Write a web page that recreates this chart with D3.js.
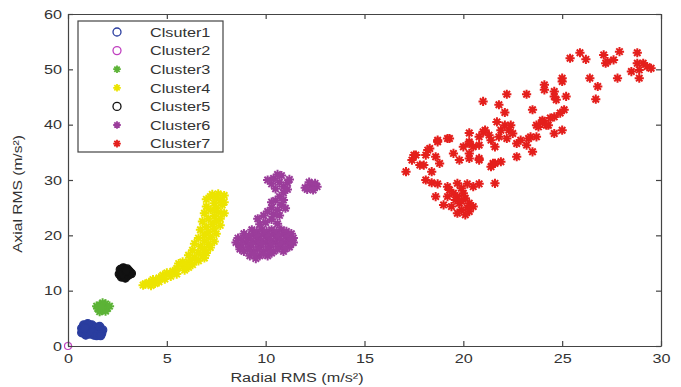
<!DOCTYPE html>
<html>
<head>
<meta charset="utf-8">
<script src="https://cdn.jsdelivr.net/npm/d3@7"></script>
<style>
  body { margin: 0; background: #fff; }
  svg text { font-family: Arial, "Liberation Sans", sans-serif; fill: #333; }
</style>
</head>
<body>
<div id="chart"></div>
<script>
// values (Radial RMS, Axial RMS)
const xTicks = [0, 5, 10, 15, 20, 25, 30];
const yTicks = [0, 10, 20, 30, 40, 50, 60];

const cluster1 = [[0.7,2.4],[0.7,3.2],[0.8,3.8],[0.9,2.0],[0.95,2.8],[1.0,3.6],[1.1,2.2],[1.15,3.0],
  [1.2,3.8],[1.3,2.0],[1.35,2.7],[1.4,3.4],[1.5,2.2],[1.55,2.9],[1.6,3.5],[1.7,2.3],[1.75,2.9],
  [1.0,4.0],[0.85,3.3],[1.25,2.5],[1.45,1.9],[1.65,1.9]];
const cluster2 = [[0, 0]];
const cluster3 = [[1.5,6.8],[1.6,7.4],[1.7,6.4],[1.8,7.1],[1.9,7.6],[2.0,6.8],[1.6,6.2],[1.9,6.3],
  [1.45,7.2],[1.75,7.8],[2.1,7.2],[1.7,7.0]];
const cluster4 = [[7.3,27.4],[7.6,27.5],[7.9,27.2],[7.5,26.8],[7.2,27.0],[7.7,26.3],[7.4,25.8],[7.8,25.5],
  [7.5,24.9],[7.2,24.6],[7.6,24.2],[7.4,23.5],[7.1,23.0],[7.5,22.6],[7.3,22.0],[7.0,21.5],[7.4,21.2],
  [7.1,20.6],[6.9,20.0],[7.2,19.6],[6.9,19.0],[7.1,18.4],[6.7,18.0],[6.9,17.4],[6.6,16.9],[6.8,16.3],
  [6.4,16.0],[6.2,15.5],[6.6,15.4],[6.0,15.0],[6.3,14.7],[5.8,14.3],[5.5,14.0],[5.9,13.7],[5.3,13.5],
  [5.0,13.2],[5.5,13.0],[4.8,12.8],[4.6,12.3],[4.9,12.1],[4.3,12.0],[4.1,11.5],[4.4,11.3],[3.9,11.2],[4.2,10.9],
  [7.0,26.5],[7.9,26.0],[7.0,25.2],[7.9,24.0],[6.9,24.0],[7.7,23.0],[6.8,22.5],[7.7,21.8],[6.7,21.0],
  [7.5,20.3],[6.6,19.5],[7.4,18.9],[6.4,18.5],[7.2,17.8],[6.3,17.3],[7.0,16.8],[6.1,16.4],[5.6,14.9],
  [6.9,15.9],[5.2,12.6],[6.1,14.2],[4.6,11.6],[3.8,11.0],[5.8,15.2]];
const cluster5 = [[2.6,13.0],[2.65,13.8],[2.7,12.5],[2.8,14.1],[2.85,13.3],[2.9,12.3],[3.0,13.9],
  [3.05,12.8],[3.1,13.5],[3.2,13.1],[2.75,13.1],[2.95,13.6]];
const cluster6 = [[9.3,21.0],[9.8,21.0],[10.3,21.0],[10.8,21.0],
  [8.9,20.3],[9.4,20.3],[9.9,20.3],[10.4,20.3],[10.9,20.3],[11.3,20.3],
  [8.6,19.5],[9.1,19.5],[9.6,19.5],[10.1,19.5],[10.6,19.5],[11.1,19.5],[11.4,19.5],
  [8.5,18.7],[9.0,18.7],[9.5,18.7],[10.0,18.7],[10.5,18.7],[11.0,18.7],[11.4,18.7],
  [8.7,17.9],[9.2,17.9],[9.7,17.9],[10.2,17.9],[10.7,17.9],[11.2,17.9],
  [8.9,17.1],[9.4,17.1],[9.9,17.1],[10.4,17.1],[10.9,17.1],
  [9.2,16.3],[9.7,16.3],[10.1,16.3],[9.5,15.8],
  [9.55,20.7],[10.05,20.7],[10.55,20.7],[11.05,20.7],[9.15,19.9],[9.65,19.9],[10.15,19.9],[10.65,19.9],
  [11.15,19.9],[8.8,19.1],[9.3,19.1],[9.8,19.1],[10.3,19.1],[10.8,19.1],[11.25,19.1],[8.75,18.3],
  [9.25,18.3],[9.75,18.3],[10.25,18.3],[10.75,18.3],[11.25,18.3],[9.1,17.5],[9.6,17.5],[10.1,17.5],
  [10.6,17.5],[11.0,17.6],[9.4,16.7],[9.9,16.7],[10.3,16.8],[8.7,17.5],
  [10.0,22.3],[10.3,22.9],[9.9,23.6],[10.4,23.8],[10.6,24.6],[10.3,25.0],[10.8,25.5],[10.5,26.3],
  [10.7,27.0],[10.9,27.7],[10.5,28.4],[10.9,28.8],[10.3,29.3],[10.7,29.6],[11.1,29.5],[10.4,30.3],
  [10.8,30.8],[11.2,30.1],[10.1,30.0],[9.7,22.0],[10.6,22.1],[9.6,23.0],[10.7,23.6],[10.1,24.3],
  [11.0,24.9],[10.9,26.4],[10.3,26.0],[11.1,28.3],[10.6,31.0],
  [12.0,28.6],[12.3,29.0],[12.6,28.8],[12.2,29.6],[12.5,29.4],[12.1,28.3],[12.4,28.2]];
const cluster7 = [[25.4,52.0],[25.9,53.0],[26.2,51.8],[27.1,52.6],[27.2,51.1],[27.3,51.4],[27.6,51.7],
  [27.9,53.2],[28.8,53.0],[28.8,51.1],[29.1,51.1],[29.3,50.5],[29.5,50.2],[28.5,49.6],[28.9,49.9],
  [28.9,48.4],[27.8,48.4],[26.4,48.4],[26.8,46.9],[26.7,44.6],[25.0,48.4],[25.0,47.8],
  [24.1,47.2],[24.1,46.3],[24.6,46.0],[24.6,45.1],[24.7,44.5],[25.2,45.1],[23.2,45.5],[22.2,45.5],
  [21.0,44.2],[21.8,43.6],[22.1,42.2],[23.5,42.7],[25.1,42.7],[24.9,42.1],[24.6,41.4],[24.4,41.2],
  [24.0,40.8],[24.0,40.5],[23.7,39.9],[23.8,39.6],[24.2,39.9],[24.3,39.9],[24.6,38.4],[25.0,39.0],
  [21.7,40.5],[22.1,39.9],[22.4,39.9],[22.3,39.0],[22.5,38.4],[21.9,39.0],[21.8,37.8],[22.2,37.5],
  [21.0,38.7],[21.1,39.0],[21.3,38.1],[20.8,37.8],[20.3,38.5],[20.3,36.6],[20.8,36.3],[21.4,37.2],
  [21.6,36.0],[20.5,36.0],[22.7,36.6],[22.9,37.2],[23.2,36.3],[23.3,37.5],[23.4,37.8],[23.7,37.8],
  [23.5,35.1],[22.7,34.2],[21.6,33.0],[21.4,32.4],[21.5,33.0],[21.9,33.3],
  [19.3,37.5],[18.7,36.9],[18.7,37.2],[19.2,37.5],[18.3,35.7],[18.2,35.4],[18.1,34.5],[18.6,34.2],
  [17.6,34.5],[17.5,34.5],[17.4,33.6],[18.8,33.0],[17.8,32.7],[18.0,32.7],[17.1,31.5],[18.4,31.5],
  [19.5,34.8],[19.8,33.6],[20.3,33.9],[20.3,34.8],[20.8,33.9],[20.8,33.6],[20.0,36.0],[20.3,36.9],
  [18.1,30.0],[18.4,29.5],[18.7,29.3],[19.2,28.8],[19.7,29.4],[20.2,29.3],[20.8,29.3],[21.6,29.4],
  [19.3,28.2],[19.9,28.5],[20.5,28.8],[18.6,27.0],[19.2,27.0],[19.7,27.0],[20.1,26.7],[20.3,25.8],
  [19.8,25.8],[19.0,25.5],[19.4,25.2],[19.9,24.6],[20.3,24.3],[20.5,25.2],[20.1,23.7],[19.7,24.0],
  [19.6,26.4],[20.0,27.6],[19.5,27.6],[20.2,25.0],[19.9,26.2]];

const names = ['Clsuter1', 'Cluster2', 'Cluster3', 'Cluster4', 'Cluster5', 'Cluster6', 'Cluster7'];
const colors = ['#2a3d9f', '#c040c0', '#5cb336', '#ece400', '#111111', '#9b3d9b', '#e41f1c'];
const shapes = ['o', 'o', '*', '*', 'o', '*', '*'];
const series = [cluster1, cluster2, cluster3, cluster4, cluster5, cluster6, cluster7];

const W = 681, H = 387;
const margin = { top: 14, right: 20, bottom: 41, left: 68 };
const width = W - margin.left - margin.right;
const height = H - margin.top - margin.bottom;
const stretch = 1.2; // the reference text is drawn a bit wider than it is tall

const svg = d3.select('#chart').append('svg')
  .attr('width', W)
  .attr('height', H);

const x = d3.scaleLinear().domain([0, 30]).range([0, width]);
const y = d3.scaleLinear().domain([0, 60]).range([height, 0]);

const chart = svg.append('g')
  .attr('transform', `translate(${margin.left}, ${margin.top})`);

// asterisk marker like matlab '*'
function star(r) {
  const k = r * 0.7;
  return `M${-r},0L${r},0M0,${-r}L0,${r}M${-k},${-k}L${k},${k}M${-k},${k}L${k},${-k}`;
}

series.forEach((pts, i) => {
  const g = chart.append('g').attr('class', 'cluster' + (i + 1));
  if (shapes[i] === 'o') {
    const hollow = i === 1;
    g.selectAll('circle')
      .data(pts)
      .enter()
      .append('circle')
      .attr('cx', d => x(d[0]))
      .attr('cy', d => y(d[1]))
      .attr('r', hollow ? 3.5 : 4.2)
      .style('fill', hollow ? 'none' : colors[i])
      .style('stroke', colors[i])
      .style('stroke-width', 1.2);
  } else {
    g.selectAll('path')
      .data(pts)
      .enter()
      .append('path')
      .attr('transform', d => `translate(${x(d[0])},${y(d[1])})`)
      .attr('d', star(4.6))
      .style('fill', 'none')
      .style('stroke', colors[i])
      .style('stroke-width', 2);
  }
});

// axes, matlab style with inward ticks on all four sides
const axisColor = '#444';
const axBottom = chart.append('g')
  .attr('transform', `translate(0, ${height})`)
  .call(d3.axisBottom(x).tickValues(xTicks).tickSizeInner(-5).tickSizeOuter(0).tickPadding(7));
const axTop = chart.append('g')
  .call(d3.axisTop(x).tickValues(xTicks).tickSizeInner(-5).tickSizeOuter(0).tickFormat(''));
const axLeft = chart.append('g')
  .call(d3.axisLeft(y).tickValues(yTicks).tickSizeInner(-5).tickSizeOuter(0).tickPadding(5));
const axRight = chart.append('g')
  .attr('transform', `translate(${width}, 0)`)
  .call(d3.axisRight(y).tickValues(yTicks).tickSizeInner(-5).tickSizeOuter(0).tickFormat(''));

[axBottom, axTop, axLeft, axRight].forEach(a => {
  a.selectAll('path, line').style('stroke', axisColor).style('stroke-width', 1.2);
  a.selectAll('text')
    .style('font-size', '13.5px')
    .style('fill', '#333')
    .attr('transform', `scale(${stretch},1)`);
});
axLeft.selectAll('text').attr('x', -6 / stretch);

// axis titles
svg.append('text')
  .attr('transform', `translate(297, 382) scale(${stretch},1)`)
  .attr('text-anchor', 'middle')
  .style('font-size', '13.5px')
  .text('Radial RMS (m/s²)');

svg.append('text')
  .attr('transform', `translate(22, 194) rotate(-90) scale(${stretch},1)`)
  .attr('text-anchor', 'middle')
  .style('font-size', '13px')
  .text('Axial RMS (m/s²)');

// legend
const legend = svg.append('g').attr('transform', 'translate(78, 21)');
legend.append('rect')
  .attr('width', 145)
  .attr('height', 131)
  .style('fill', '#fff')
  .style('stroke', axisColor)
  .style('stroke-width', 1.2);

names.forEach((name, i) => {
  const row = legend.append('g').attr('transform', `translate(0, ${11 + i * 18.6})`);
  if (shapes[i] === 'o') {
    row.append('circle')
      .attr('cx', 39)
      .attr('r', 4)
      .style('fill', 'none')
      .style('stroke', colors[i])
      .style('stroke-width', 1.3);
  } else {
    row.append('path')
      .attr('transform', 'translate(39, 0)')
      .attr('d', star(3.8))
      .style('fill', 'none')
      .style('stroke', colors[i])
      .style('stroke-width', 1.8);
  }
  row.append('text')
    .attr('transform', `translate(72, 0) scale(${stretch},1)`)
    .attr('dy', '0.35em')
    .style('font-size', '13.5px')
    .text(name);
});
</script>
</body>
</html>
